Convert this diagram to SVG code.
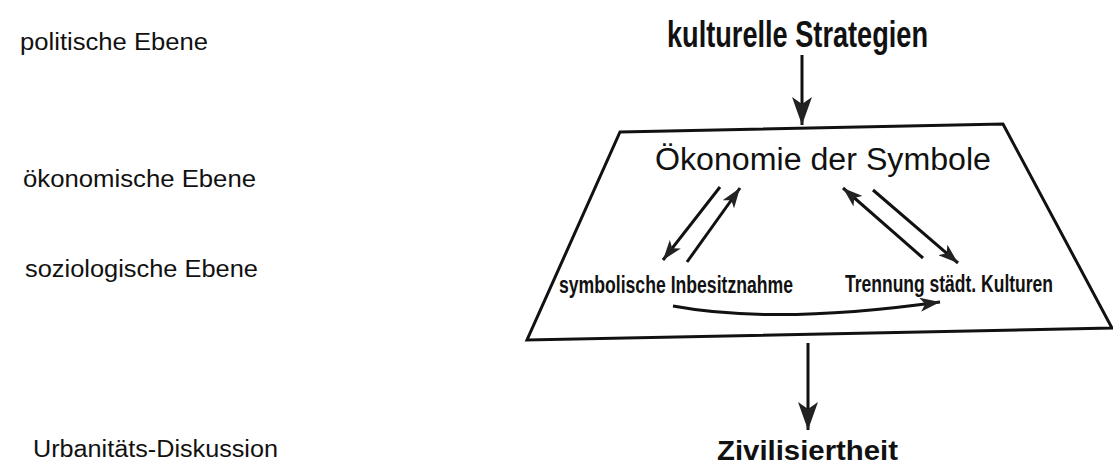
<svg xmlns="http://www.w3.org/2000/svg" width="1113" height="468" viewBox="0 0 1113 468">
<style>
.lbl{font-family:"Liberation Sans",Arial,sans-serif;font-size:23px;fill:#111}
.bc{font-family:"Liberation Sans",Arial,sans-serif;font-weight:bold;fill:#111}
.main{font-family:"Liberation Sans",Arial,sans-serif;font-size:31px;fill:#111}
.ln{fill:none;stroke:#111;stroke-width:3}
</style>
<defs>
<marker id="big" markerUnits="userSpaceOnUse" markerWidth="28" markerHeight="20" refX="28" refY="10" orient="auto">
<path d="M0,0 L28,10 L0,20 L7,10 z" fill="#222"/>
</marker>
<marker id="sm" markerUnits="userSpaceOnUse" markerWidth="20" markerHeight="14" refX="20" refY="7" orient="auto">
<path d="M0,0 L20,7 L0,14 L5,7 z" fill="#222"/>
</marker>
</defs>
<rect width="1113" height="468" fill="#fff"/>
<g id="levels">
<text class="lbl" x="20" y="50" textLength="188" lengthAdjust="spacingAndGlyphs">politische Ebene</text>
<text class="lbl" x="23" y="187" textLength="233" lengthAdjust="spacingAndGlyphs">ökonomische Ebene</text>
<text class="lbl" x="25" y="277" textLength="233" lengthAdjust="spacingAndGlyphs">soziologische Ebene</text>
<text class="lbl" x="33" y="457" textLength="245" lengthAdjust="spacingAndGlyphs">Urbanitäts-Diskussion</text>
</g>
<g id="strategien">
<text class="bc" x="667" y="47" font-size="36" textLength="261" lengthAdjust="spacingAndGlyphs">kulturelle Strategien</text>
</g>
<g id="oekonomie">
<polygon class="ln" points="620,132 1003,124 1112,328 527,340"/>
<text class="main" x="655" y="170" textLength="336" lengthAdjust="spacingAndGlyphs">Ökonomie der Symbole</text>
</g>
<g id="inbesitznahme">
<text class="bc" x="559" y="293" font-size="23" textLength="234" lengthAdjust="spacingAndGlyphs">symbolische Inbesitznahme</text>
</g>
<g id="trennung">
<text class="bc" x="845" y="292" font-size="23" textLength="208" lengthAdjust="spacingAndGlyphs">Trennung städt. Kulturen</text>
</g>
<g id="zivilisiertheit">
<text class="bc" x="717" y="460" font-size="28" textLength="181" lengthAdjust="spacingAndGlyphs">Zivilisiertheit</text>
</g>
<g id="connectors">
<path class="ln" d="M802,55 L802,125" marker-end="url(#big)"/>
<path class="ln" d="M808,343 L808,430" marker-end="url(#big)"/>
<path class="ln" d="M720,187 L663,260" marker-end="url(#sm)"/>
<path class="ln" d="M687,262 L740,188" marker-end="url(#sm)"/>
<path class="ln" d="M923,258 L843,188" marker-end="url(#sm)"/>
<path class="ln" d="M873,190 L958,263" marker-end="url(#sm)"/>
<path class="ln" d="M673,306 Q775,325 940,302" marker-end="url(#sm)"/>
</g>
</svg>
